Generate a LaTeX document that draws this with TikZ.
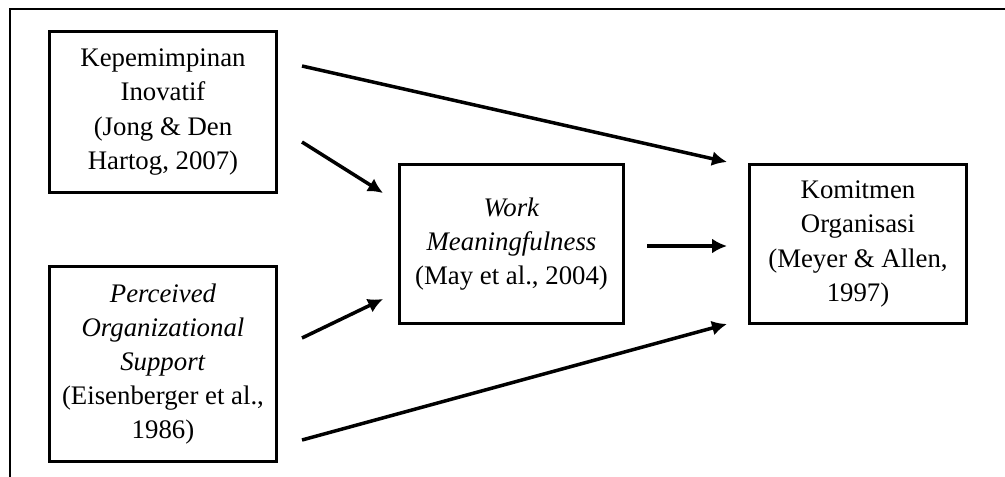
\documentclass[tikz,border=0pt]{standalone}
\usepackage{fontspec}
\setmainfont{Liberation Serif}
\usetikzlibrary{arrows.meta}
\usetikzlibrary{calc}

\tikzset{
  varbox/.style={draw, line width=0.06cm, align=center, inner sep=0pt,
    font=\fontsize{15.25pt}{19.4pt}\selectfont},
  panah/.style={line width=0.07cm, -{Latex[length=0.3cm,width=0.3cm]}}
}

\begin{document}
\begin{tikzpicture}[x=0.02cm, y=-0.02cm]
                \useasboundingbox (0,0) rectangle (1005,477);
                \draw[line width=0.05cm] (10,477) -- (10,9) -- (1005,9);

                \node[varbox, minimum width=4.56cm, minimum height=3.24cm] (kep) at (163,112) {Kepemimpinan\\ Inovatif\\ (Jong \& Den\\ Hartog, 2007)};
                \node[varbox, minimum width=4.56cm, minimum height=3.92cm] (pos) at (163,364) {\textit{Perceived}\\ \textit{Organizational}\\ \textit{Support}\\ (Eisenberger et al.,\\ 1986)};
                \node[varbox, minimum width=4.5cm, minimum height=3.2cm] (wm) at (511.5,244) {\textit{Work}\\ \textit{Meaningfulness}\\ (May et al., 2004)};
                \node[varbox, minimum width=4.36cm, minimum height=3.2cm] (kom) at (858,244) {Komitmen\\ Organisasi\\ (Meyer \& Allen,\\ 1997)};

                \coordinate (kep1) at (302,66);
                \coordinate (kep2) at (302,142);
                \coordinate (pos1) at (302,338);
                \coordinate (pos2) at (302,440);
                \coordinate (wm1) at (647,246);
                \coordinate (wmin1) at (383,193);
                \coordinate (wmin2) at (383,299);
                \coordinate (kom1) at (727,162);
                \coordinate (kom2) at (727,246);
                \coordinate (kom3) at (727,324);

                \draw[panah] (kep1) to (kom1);
                \draw[panah] (kep2) to (wmin1);
                \draw[panah] (pos1) to (wmin2);
                \draw[panah] (wm1) to (kom2);
                \draw[panah] (pos2) to (kom3);
            \end{tikzpicture}
\end{document}
